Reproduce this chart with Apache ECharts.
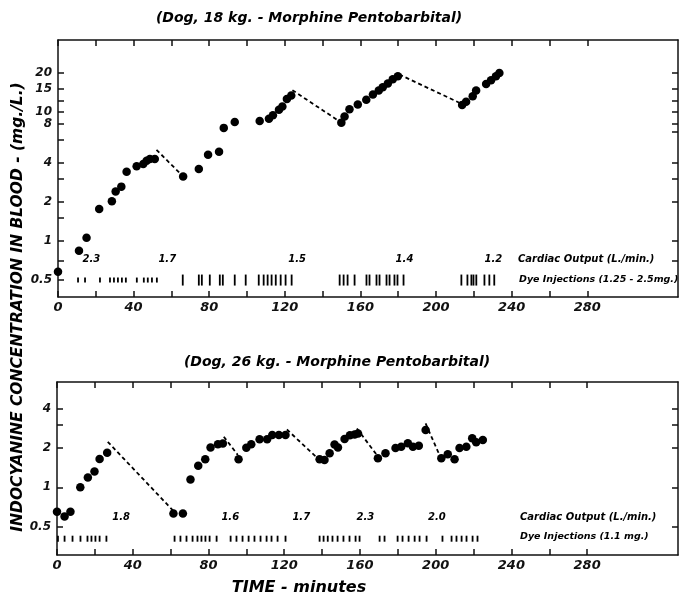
<!DOCTYPE html>
<html><head><meta charset="utf-8">
<script src="https://cdn.jsdelivr.net/npm/echarts@6/dist/echarts.min.js"></script>
<style>html,body{margin:0;padding:0;background:#fff}#c{width:682px;height:597px}</style>
</head><body><div id="c"></div>
<script>
// ---------------- DATA ----------------
// Upper panel: Dog, 18 kg
const topTime = [0, 11.1, 15.1, 21.8, 28.5, 30.5, 33.5, 36.3, 41.6, 45.1, 46.9, 48.6, 51.2, 66.2, 74.5, 79.4, 85.2, 87.7, 93.5, 106.7, 111.6, 113.7, 116.9, 118.7, 121.1, 123.4, 149.9, 151.6, 154.2, 158.6, 163.1, 166.6, 169.7, 171.8, 174.5, 177.1, 179.8, 213.8, 215.9, 219.4, 221.2, 226.5, 229.1, 231.7, 233.5];
const topConc = [0.58, 0.84, 1.06, 1.77, 2.03, 2.41, 2.63, 3.43, 3.77, 3.93, 4.16, 4.29, 4.29, 3.15, 3.6, 4.64, 4.89, 7.47, 8.3, 8.45, 8.8, 9.35, 10.3, 10.9, 12.5, 13.3, 8.2, 9.15, 10.4, 11.3, 12.3, 13.5, 14.5, 15.4, 16.4, 17.7, 18.7, 11.2, 11.9, 13.1, 14.5, 16.3, 17.4, 18.7, 19.8];
const topDecayTime = [52.1, 66.2, null, 124.0, 149.9, null, 180.5, 213.3];
const topDecayConc = [5.06, 3.15, null, 14.6, 8.2, null, 19.3, 11.5];
const topDyeSmall = [10.6, 14.3, 22.2, 27.5, 29.6, 31.7, 33.8, 35.9, 41.7, 45.4, 47.5, 49.7, 52.3];
const topDyeLarge = [66.0, 74.5, 76.1, 80.3, 85.6, 87.2, 93.5, 99.3, 106.2, 108.8, 110.9, 113.0, 115.2, 117.8, 120.4, 123.6,
  149.0, 151.1, 153.2, 156.9, 163.2, 164.8, 168.5, 170.1, 173.8, 175.4, 178.0, 179.6, 182.8,
  213.4, 216.6, 218.7, 219.8, 221.3, 225.6, 228.2, 230.8];
const topCOTime = [17.7, 57.8, 126.5, 183.3, 230.3];
const topCOValue = ['2.3', '1.7', '1.5', '1.4', '1.2'];

// Lower panel: Dog, 26 kg
const botTime = [0, 4.0, 7.1, 12.3, 16.3, 19.8, 22.5, 26.5, 61.5, 66.5, 70.5, 74.6, 78.3, 81.1, 85.0, 87.6, 95.9, 100.0, 102.6, 107.0, 111.0, 113.7, 117.2, 120.7, 138.7, 141.3, 144.0, 146.6, 148.4, 151.9, 154.7, 157.2, 159.0, 169.5, 173.5, 178.8, 181.8, 185.3, 188.0, 191.1, 194.7, 203.0, 206.4, 210.0, 212.6, 216.2, 219.3, 221.4, 224.9];
const botConc = [0.65, 0.6, 0.65, 1.0, 1.19, 1.32, 1.65, 1.84, 0.63, 0.63, 1.15, 1.46, 1.64, 2.02, 2.14, 2.16, 1.64, 2.01, 2.14, 2.33, 2.33, 2.51, 2.51, 2.51, 1.64, 1.62, 1.82, 2.13, 2.02, 2.34, 2.5, 2.54, 2.58, 1.67, 1.82, 2.0, 2.04, 2.17, 2.04, 2.08, 2.74, 1.67, 1.79, 1.64, 2.0, 2.04, 2.37, 2.21, 2.3];
const botDecayTime = [26.8, 61.5, null, 88.1, 95.5, null, 121.4, 136.9, null, 158.4, 168.9, null, 194.7, 202.0];
const botDecayConc = [2.23, 0.66, null, 2.44, 1.77, null, 2.77, 1.71, null, 2.82, 1.77, null, 3.08, 1.77];
const botDye = [0.5, 4.0, 8.2, 12.4, 16.1, 18.2, 20.3, 22.5, 26.1,
  62.1, 65.2, 68.4, 71.6, 74.2, 76.3, 78.4, 80.6, 84.3,
  91.7, 94.8, 98.0, 101.2, 104.3, 107.5, 110.7, 113.3, 116.5, 120.7,
  138.7, 140.8, 143.0, 145.5, 148.2, 151.3, 154.5, 157.7, 159.8,
  170.4, 173.0, 179.9, 182.5, 185.7, 188.9, 191.5, 195.2,
  203.6, 208.4, 211.0, 213.7, 216.3, 219.5, 222.1];
const botCOTime = [33.9, 91.5, 129.0, 162.9, 200.6];
const botCOValue = ['1.8', '1.6', '1.7', '2.3', '2.0'];

// Tick labels
const xTickValues = [0, 20, 40, 60, 80, 100, 120, 140, 160, 180, 200, 220, 240, 260, 280];
const xLabelValues = [0, 40, 80, 120, 160, 200, 240, 280];
const topYTickValues = [20, 15, 12, 10, 8, 6, 4, 3, 2, 1.5, 1, 0.7, 0.5];
const topYLabelValues = [20, 15, 10, 8, 4, 2, 1, 0.5];
const topRightTickValues = [20, 15, 12, 10, 8, 7, 4, 3, 2, 1, 0.7];
const botYTickValues = [4, 3, 2, 1, 0.5];
const botYLabelValues = [4, 2, 1, 0.5];

// ---------------- CHART ----------------
const L = v => (v == null ? null : Math.log10(v));
const FONT = 'DejaVu Sans';
const ink = '#111';
const fmtY = v => String(+Math.pow(10, v).toPrecision(3));

function xAxes(grid) {
  const base = {
    gridIndex: grid, type: 'value', min: 0, max: 328,
    axisLine: { onZero: false, lineStyle: { color: ink, width: 1.5 } },
    axisTick: { inside: true, length: 6, customValues: xTickValues, lineStyle: { color: ink, width: 1.5 } },
    splitLine: { show: false }
  };
  return [
    Object.assign({}, base, { position: 'bottom',
      axisLabel: { customValues: xLabelValues, margin: 4, color: ink, fontFamily: FONT, fontStyle: 'italic', fontWeight: 'bold', fontSize: 13 } }),
    Object.assign({}, base, { position: 'top', axisLabel: { show: false } })
  ];
}
function yAxes(grid, lo, hi, ticks, labels, rticks) {
  const base = {
    gridIndex: grid, type: 'value', min: L(lo), max: L(hi),
    axisLine: { show: true, onZero: false, lineStyle: { color: ink, width: 1.5 } },
    splitLine: { show: false }
  };
  return [
    Object.assign({}, base, { position: 'left',
      axisTick: { show: true, inside: true, length: 6, customValues: ticks.map(L), lineStyle: { color: ink, width: 1.5 } },
      axisLabel: { customValues: labels.map(L), formatter: fmtY, margin: 6, color: ink, fontFamily: FONT, fontStyle: 'italic', fontWeight: 'bold', fontSize: 12 } }),
    Object.assign({}, base, { position: 'right',
      axisTick: { show: true, inside: true, length: 6, customValues: rticks.map(L), lineStyle: { color: ink, width: 1.5 } },
      axisLabel: { show: false } })
  ];
}
const pts = (t, c) => t.map((x, i) => [x, L(c[i])]);
const lineData = (t, c) => t.map((x, i) => (x == null ? [null, null] : [x, L(c[i])]));

function panelSeries(xi, yi, time, conc, dTime, dConc, dyeSets, coTime, coVal, coLevel, dyeLevel) {
  const s = [
    { type: 'line', xAxisIndex: xi, yAxisIndex: yi, data: lineData(dTime, dConc), connectNulls: false,
      symbol: 'none', lineStyle: { color: '#000', width: 1.8, type: [4, 3] }, silent: true },
    { type: 'scatter', xAxisIndex: xi, yAxisIndex: yi, data: pts(time, conc), symbol: 'circle', symbolSize: 8.5,
      itemStyle: { color: '#000', opacity: 1 } },
    { type: 'scatter', xAxisIndex: xi, yAxisIndex: yi, data: coTime.map((t, i) => [t, L(coLevel), coVal[i]]),
      symbolSize: 1, itemStyle: { color: 'rgba(0,0,0,0)', opacity: 1 },
      label: { show: true, position: 'inside', formatter: p => p.value[2], color: '#000', opacity: 1, fontFamily: FONT, fontStyle: 'italic', fontWeight: 'bold', fontSize: 10 } }
  ];
  dyeSets.forEach(ds => s.push({
    type: 'scatter', xAxisIndex: xi, yAxisIndex: yi, data: ds.times.map(t => [t, L(dyeLevel)]),
    symbol: 'rect', symbolSize: ds.size, itemStyle: { color: '#000', opacity: 1 }
  }));
  return s;
}

const chart = echarts.init(document.getElementById('c'), null, { renderer: 'canvas' });
const txt = (x, y, s, size, align, extra, spacing) => Object.assign({
  type: 'text', x, y, style: { text: s, fill: '#000', font: 'italic bold ' + size + 'px "' + FONT + '"', align: align || 'center', verticalAlign: 'middle', letterSpacing: spacing || 0 }
}, extra || {});

chart.setOption({
  animation: false,
  backgroundColor: '#fff',
  grid: [
    { left: 58, top: 40, width: 620, height: 257 },
    { left: 57, top: 382, width: 621, height: 173 }
  ],
  xAxis: [...xAxes(0), ...xAxes(1)],
  yAxis: [
    ...yAxes(0, 0.37, 35.6, topYTickValues, topYLabelValues, topRightTickValues),
    ...yAxes(1, 0.304, 6.39, botYTickValues, botYLabelValues, botYTickValues)
  ],
  series: [
    ...panelSeries(0, 0, topTime, topConc, topDecayTime, topDecayConc,
      [{ times: topDyeSmall, size: [1.8, 5] }, { times: topDyeLarge, size: [1.8, 11] }],
      topCOTime, topCOValue, 0.72, 0.5),
    ...panelSeries(2, 2, botTime, botConc, botDecayTime, botDecayConc,
      [{ times: botDye, size: [1.8, 6] }],
      botCOTime, botCOValue, 0.59, 0.405)
  ],
  graphic: [
    txt(309, 18, '(Dog, 18 kg. - Morphine Pentobarbital)', 14, 'center', null, 0.8),
    txt(337, 362, '(Dog, 26 kg. - Morphine Pentobarbital)', 14, 'center', null, 0.8),
    txt(299, 588, 'TIME - minutes', 16, 'center', null, 0.8),
    txt(18, 307, 'INDOCYANINE CONCENTRATION IN BLOOD - (mg./L.)', 15.5, 'center', { rotation: Math.PI / 2 }, 0.8),
    txt(518, 259, 'Cardiac Output (L./min.)', 10, 'left'),
    txt(519, 280, 'Dye Injections (1.25 - 2.5mg.)', 9.5, 'left'),
    txt(520, 517, 'Cardiac Output (L./min.)', 10, 'left'),
    txt(520, 537, 'Dye Injections (1.1 mg.)', 9.5, 'left')
  ]
});
</script>
</body></html>
